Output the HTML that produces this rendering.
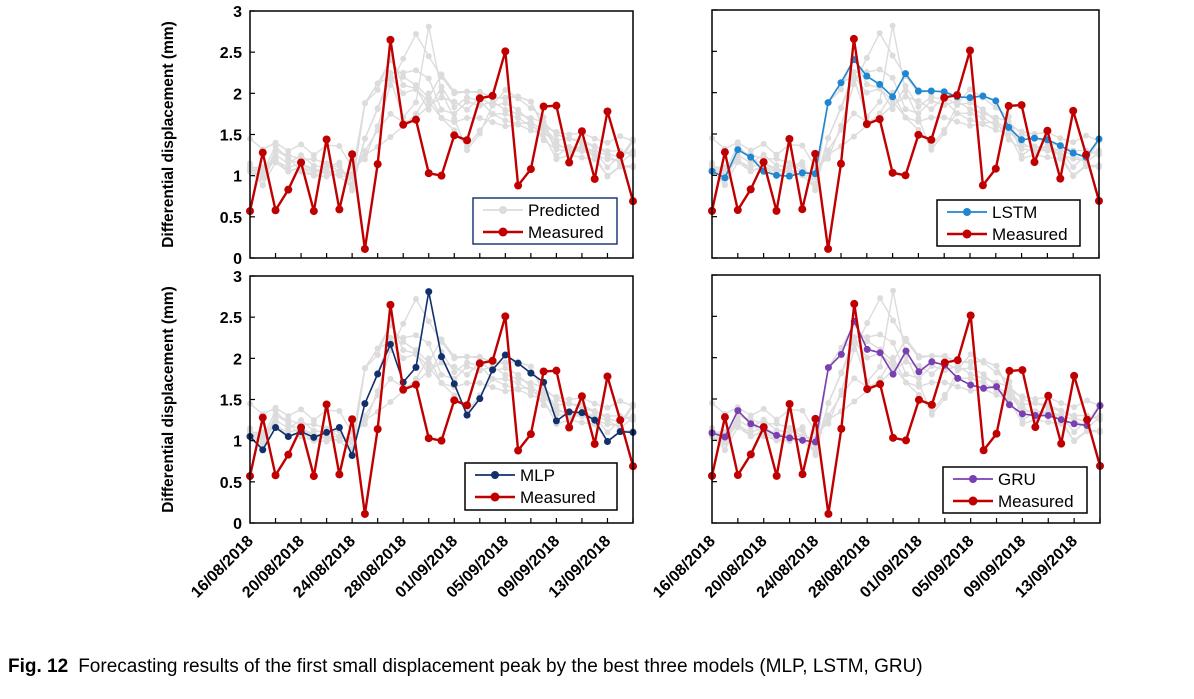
<!DOCTYPE html>
<html><head><meta charset="utf-8"><style>
html,body{margin:0;padding:0;background:#fff;}
svg{display:block;font-family:"Liberation Sans",Arial,sans-serif;}
</style></head><body>
<svg id="fig" width="1194" height="699" viewBox="0 0 1194 699">
<g id="layer"></g>
<text x="8" y="672" font-size="19"><tspan font-weight="bold">Fig. 12</tspan><tspan dx="10">Forecasting results of the first small displacement peak by the best three models (MLP, LSTM, GRU)</tspan></text>
</svg>
<script>
const dates = ["16/08/2018","20/08/2018","24/08/2018","28/08/2018","01/09/2018","05/09/2018","09/09/2018","13/09/2018"];
const yTicks = [0,0.5,1,1.5,2,2.5,3];
const measured = [0.57,1.28,0.58,0.83,1.16,0.57,1.44,0.59,1.26,0.11,1.14,2.65,1.62,1.68,1.03,1.0,1.49,1.43,1.94,1.97,2.51,0.88,1.08,1.84,1.85,1.16,1.54,0.96,1.78,1.25,0.69];
const mlp = [1.05,0.89,1.16,1.05,1.11,1.04,1.10,1.16,0.82,1.45,1.81,2.17,1.71,1.89,2.81,2.02,1.69,1.31,1.51,1.86,2.04,1.94,1.82,1.71,1.24,1.35,1.34,1.25,0.99,1.11,1.10];
const lstm = [1.05,0.97,1.31,1.22,1.05,1.0,0.99,1.03,1.02,1.88,2.12,2.40,2.20,2.10,1.95,2.23,2.02,2.02,2.01,1.95,1.94,1.96,1.90,1.58,1.43,1.45,1.43,1.36,1.27,1.22,1.44];
const gru = [1.09,1.04,1.36,1.20,1.14,1.06,1.03,1.0,0.98,1.88,2.04,2.44,2.10,2.06,1.80,2.08,1.83,1.95,1.91,1.75,1.67,1.63,1.65,1.43,1.32,1.30,1.30,1.25,1.20,1.18,1.42];
const greyA = [1.45,1.32,1.40,1.30,1.38,1.25,1.37,1.36,1.10,1.20,1.60,2.10,2.42,2.72,2.45,2.20,2.00,2.02,2.02,1.95,1.95,1.96,1.90,1.60,1.53,1.50,1.52,1.45,1.40,1.48,1.42];
const greyB = [1.15,0.88,1.30,1.25,1.20,1.20,1.15,1.05,1.02,1.25,1.35,1.47,1.60,1.75,2.00,1.70,1.55,1.35,1.55,1.75,1.75,1.70,1.60,1.55,1.40,1.30,1.35,1.30,1.10,1.25,1.30];
const greyC = [1.12,1.05,1.25,1.15,1.25,1.12,1.10,1.12,0.90,1.45,1.82,2.25,2.25,2.28,2.18,1.80,1.75,1.90,1.85,1.90,1.80,1.75,1.70,1.65,1.50,1.45,1.40,1.35,1.30,1.30,1.25];
const greyD = [1.08,1.00,1.20,1.05,1.10,1.00,1.05,1.00,0.85,1.88,2.12,2.20,2.00,2.05,1.90,1.70,1.65,1.70,1.70,1.65,1.60,1.62,1.55,1.50,1.20,1.25,1.22,1.20,1.00,1.12,1.12];
const greyE = [1.10,1.10,1.18,1.10,1.15,1.08,1.05,1.05,1.00,1.30,1.55,1.75,1.65,1.70,1.85,1.95,1.90,1.80,1.95,1.85,1.88,1.80,1.65,1.55,1.35,1.35,1.30,1.30,1.25,1.15,1.28];

const NS="http://www.w3.org/2000/svg";
const layer=document.getElementById('layer');
function mk(tag,attrs,parent){const e=document.createElementNS(NS,tag);for(const k in attrs)e.setAttribute(k,attrs[k]);(parent||layer).appendChild(e);return e;}

const panels=[
 {x0:250,x1:633,y0:11,y1:258,model:null,label:"Predicted",color:"#dcdcdc",leg:[473,198,144,46],legBorder:"#1f3a7a",yLabels:true,xLabels:false,name:"panel-predicted"},
 {x0:712,x1:1099,y0:10,y1:258,model:lstm,label:"LSTM",color:"#1f86d1",leg:[937,200,143,46],legBorder:"#000",yLabels:false,xLabels:false,name:"panel-lstm"},
 {x0:250,x1:633,y0:276,y1:523,model:mlp,label:"MLP",color:"#12306b",leg:[465,463,152,47],legBorder:"#000",yLabels:true,xLabels:true,name:"panel-mlp"},
 {x0:712,x1:1100,y0:275,y1:523,model:gru,label:"GRU",color:"#7a3fb0",leg:[943,467,144,46],legBorder:"#000",yLabels:false,xLabels:true,name:"panel-gru"}
];
const greys=[greyA,greyB,greyC,greyD,greyE,mlp,lstm,gru];

function series(g,data,xs,ys,color,w,r,name){
  const pl=mk('polyline',{points:data.map((v,i)=>xs(i)+','+ys(v)).join(' '),fill:'none',stroke:color,'stroke-width':w},g);
  
  
  data.forEach((v,i)=>{const c=mk('circle',{cx:xs(i),cy:ys(v),r:r,fill:color},g);
    
    });
}

panels.forEach(p=>{
  const g=mk('g',{});
  
  
  const n=measured.length;
  const xs=i=>p.x0+(p.x1-p.x0)*i/(n-1);
  const ys=v=>p.y1-(p.y1-p.y0)*v/3;
  greys.forEach(s=>series(g,s,xs,ys,'#dcdcdc',1.4,3,'predicted'));
  if(p.model) series(g,p.model,xs,ys,p.color,1.6,3.5,p.label.toLowerCase());
  series(g,measured,xs,ys,'#c00000',2.4,4,'measured');
  const fr=mk('rect',{x:p.x0,y:p.y0,width:p.x1-p.x0,height:p.y1-p.y0,fill:'none',stroke:'#000','stroke-width':1.5},g);
  
  
  yTicks.forEach(t=>{
    mk('line',{x1:p.x0,x2:p.x0+5,y1:ys(t),y2:ys(t),stroke:'#000','stroke-width':1.2},g);
    if(p.yLabels){const tx=mk('text',{x:p.x0-8,y:ys(t)+6,'text-anchor':'end','font-size':16,'font-weight':'bold'},g);tx.textContent=t;
      
      }
  });
  for(let i=2;i<n;i+=2) mk('line',{x1:xs(i),x2:xs(i),y1:p.y1,y2:p.y1-5,stroke:'#000','stroke-width':1.2},g);
  if(p.yLabels){
    const cy=(p.y0+p.y1)/2;
    const yl=mk('text',{x:0,y:0,transform:`translate(173,${cy}) rotate(-90)`,'text-anchor':'middle','font-size':15.5,'font-weight':'bold'},g);
    yl.textContent='Differential displacement (mm)';
    
    
  }
  if(p.xLabels){
    dates.forEach((d,k)=>{const x=xs(k*4)+4, y=p.y1+19;
      const t=mk('text',{x:0,y:0,transform:`translate(${x},${y}) rotate(-45)`,'text-anchor':'end','font-size':16,'font-weight':'bold'},g);
      t.textContent=d;
      
      });
  }
  const [lx,ly,lw,lh]=p.leg;
  const lg=mk('g',{},g);
  
  
  mk('rect',{x:lx,y:ly,width:lw,height:lh,fill:'#fff',stroke:p.legBorder,'stroke-width':1.5},lg);
  const c1=p.model?p.color:'#dcdcdc';
  mk('line',{x1:lx+10,x2:lx+50,y1:ly+12,y2:ly+12,stroke:c1,'stroke-width':1.8},lg);
  mk('circle',{cx:lx+30,cy:ly+12,r:4,fill:c1},lg);
  const t1=mk('text',{x:lx+55,y:ly+18,'font-size':17},lg);t1.textContent=p.label;
  
  
  mk('line',{x1:lx+10,x2:lx+50,y1:ly+34,y2:ly+34,stroke:'#c00000','stroke-width':2.6},lg);
  mk('circle',{cx:lx+30,cy:ly+34,r:4.5,fill:'#c00000'},lg);
  const t2=mk('text',{x:lx+55,y:ly+40,'font-size':17},lg);t2.textContent='Measured';
  
  
});
</script>
</body></html>
